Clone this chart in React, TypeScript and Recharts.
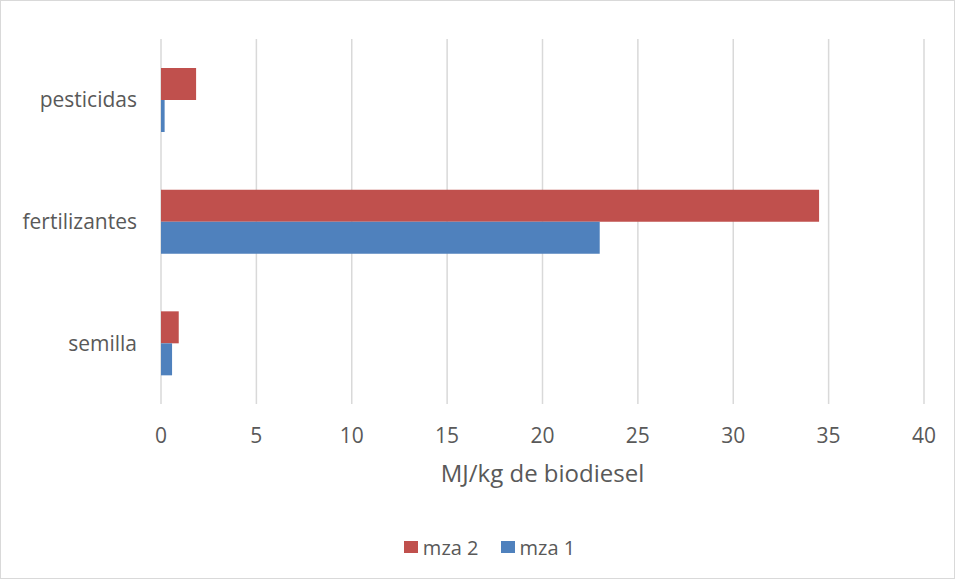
import { BarChart, Bar, XAxis, YAxis, CartesianGrid, Legend } from 'recharts';

const categories = ['pesticidas', 'fertilizantes', 'semilla'];
const mza2 = [1.84, 34.5, 0.93];
const mza1 = [0.19, 23.0, 0.58];
const xTicks = [0, 5, 10, 15, 20, 25, 30, 35, 40];

const series = [
  { key: 'mza2', name: 'mza 2', color: '#C0504D' },
  { key: 'mza1', name: 'mza 1', color: '#4F81BD' },
];

const data = categories.map((name, i) => ({
  name,
  mza2: mza2[i],
  mza1: mza1[i],
}));

const FONT = '"Open Sans", sans-serif';
const TEXT = '#595959';

function LegendBox() {
  return (
    <div
      style={{
        display: 'flex',
        justifyContent: 'center',
        alignItems: 'center',
        height: 26,
        gap: 22,
        paddingLeft: 54,
        fontFamily: FONT,
        fontSize: 20,
        color: TEXT,
      }}
    >
      {series.map((s) => (
        <div key={s.key} style={{ display: 'flex', alignItems: 'center', gap: 5 }}>
          <span style={{ display: 'inline-block', width: 14, height: 12, background: s.color }} />
          <span>{s.name}</span>
        </div>
      ))}
    </div>
  );
}

export default function App() {
  return (
    <div
      style={{
        position: 'absolute',
        left: 0,
        top: 0,
        width: 955,
        height: 579,
        boxSizing: 'border-box',
        border: '1px solid #d9d9d9',
        background: '#fff',
        fontFamily: FONT,
      }}
    >
      <BarChart
        width={953}
        height={577}
        data={data}
        layout="vertical"
        barGap={0}
        margin={{ top: 38, right: 30, left: 0, bottom: 18 }}
      >
        <CartesianGrid horizontal={false} stroke="#d9d9d9" strokeWidth={1.5} />
        <XAxis
          type="number"
          domain={[0, 40]}
          ticks={xTicks}
          axisLine={false}
          tickLine={false}
          tickSize={0}
          tickMargin={24}
          height={130}
          tick={{ fill: TEXT, fontSize: 21, fontFamily: FONT }}
          label={{
            value: 'MJ/kg de biodiesel',
            position: 'insideBottom',
            offset: 52,
            fill: TEXT,
            fontSize: 24,
            fontFamily: FONT,
          }}
        />
        <YAxis
          type="category"
          dataKey="name"
          width={160}
          axisLine={false}
          tickLine={false}
          tickSize={0}
          tickMargin={24}
          tick={{ fill: TEXT, fontSize: 21, fontFamily: FONT }}
        />
        <Legend verticalAlign="bottom" align="center" content={() => <LegendBox />} />
        {series.map((s) => (
          <Bar
            key={s.key}
            dataKey={s.key}
            name={s.name}
            fill={s.color}
            barSize={32}
            isAnimationActive={false}
          />
        ))}
      </BarChart>
    </div>
  );
}
